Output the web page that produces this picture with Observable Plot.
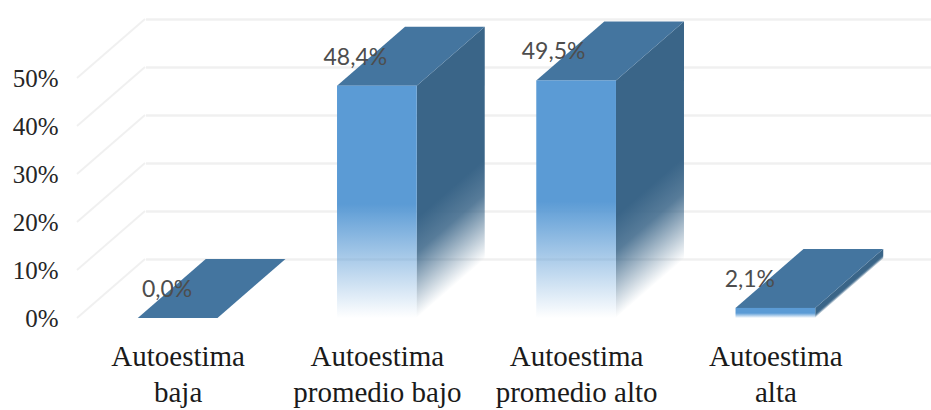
<!DOCTYPE html>
<html>
<head>
<meta charset="utf-8">
<script src="https://cdn.jsdelivr.net/npm/d3@7"></script>
<script src="https://cdn.jsdelivr.net/npm/@observablehq/plot@0.6"></script>
<style>
html,body{margin:0;padding:0;background:#fff;overflow:hidden}
svg{display:block}
</style>
</head>
<body>
<div id="chart"></div>
<script>
const categories = ["Autoestima\nbaja", "Autoestima\npromedio bajo", "Autoestima\npromedio alto", "Autoestima\nalta"];
const values = [0.0, 48.4, 49.5, 2.1];
const yTicks = [0, 10, 20, 30, 40, 50];

const rows = categories.map((cat, i) => ({cat, val: values[i]}));

// Chart-style constants for the 3D look
const DX = 68, DY = -59;
const FRONT = "#5b9bd5", TOP = "#44759f", SIDE = "#3a6588", GRID = "#f0f0f0";
const FADE = 0.43;
const labelShift = {[categories[0]]: -11, [categories[1]]: -22, [categories[2]]: -23, [categories[3]]: -26};

const poly = (pts) => pts.map(p => p.join(",")).join(" ");

function defsMark() {
  const defs = d3.create("svg:defs");
  const g = defs.append("linearGradient").attr("id", "frontFade").attr("x1", 0).attr("y1", 0).attr("x2", 0).attr("y2", 1);
  g.append("stop").attr("offset", "0.51").attr("stop-color", FRONT).attr("stop-opacity", 1);
  g.append("stop").attr("offset", "1").attr("stop-color", FRONT).attr("stop-opacity", 0);
  return defs.node();
}

function sideRender(index, scales) {
  const g = d3.create("svg:g");
  const bw = scales.x.bandwidth();
  const base = scales.y(0);
  for (const i of index) {
    const d = rows[i];
    const xr = scales.x(d.cat) + bw;
    const yt = scales.y(d.val);
    const span = (base - yt) * FADE;
    const norm = Math.hypot(DX, DY);
    const L = span * DX / norm;
    const x1 = xr, y1 = base - span;
    const id = "sideFade" + i;
    const lg = g.append("linearGradient").attr("id", id).attr("gradientUnits", "userSpaceOnUse")
      .attr("x1", x1).attr("y1", y1)
      .attr("x2", x1 + (-DY / norm) * L).attr("y2", y1 + (DX / norm) * L);
    lg.append("stop").attr("offset", 0).attr("stop-color", SIDE).attr("stop-opacity", 1);
    lg.append("stop").attr("offset", 0.35).attr("stop-color", SIDE).attr("stop-opacity", 0.85);
    lg.append("stop").attr("offset", 1).attr("stop-color", SIDE).attr("stop-opacity", 0);
    g.append("polygon")
      .attr("points", poly([[xr, yt], [xr + DX, yt + DY], [xr + DX, base + DY], [xr, base]]))
      .attr("fill", `url(#${id})`);
  }
  return g.node();
}

function topRender(index, scales) {
  const g = d3.create("svg:g");
  const bw = scales.x.bandwidth();
  for (const i of index) {
    const d = rows[i];
    const xl = scales.x(d.cat), yt = scales.y(d.val);
    g.append("polygon")
      .attr("points", poly([[xl, yt], [xl + bw, yt], [xl + bw + DX, yt + DY], [xl + DX, yt + DY]]))
      .attr("fill", TOP);
  }
  return g.node();
}

function floorRender(index, scales, vals, dims) {
  const g = d3.create("svg:g");
  const x0 = dims.marginLeft - 1;
  for (const i of index) {
    const y = scales.y(yTicks[i]);
    g.append("line").attr("x1", x0).attr("y1", y).attr("x2", x0 + DX).attr("y2", y + DY)
      .attr("stroke", GRID).attr("stroke-width", 1.8);
  }
  return g.node();
}

const chart = Plot.plot({
  width: 931,
  height: 410,
  marginLeft: 78,
  marginRight: 56,
  marginTop: 78,
  marginBottom: 92,
  style: {background: "#fff"},
  x: {domain: categories, paddingInner: 0.6, paddingOuter: 0.3, round: false, label: null},
  y: {domain: [0, 50], label: null},
  marks: [
    defsMark,
    Plot.ruleY(yTicks, {dx: DX, dy: DY, stroke: GRID, strokeWidth: 2.5}),
    Plot.ruleY(yTicks, {render: floorRender}),
    Plot.barY(rows, {x: "cat", y: "val", render: sideRender}),
    Plot.barY(rows, {x: "cat", y: "val", render: topRender}),
    Plot.barY(rows, {x: "cat", y: "val", fill: "url(#frontFade)"}),
    ...rows.map(r => Plot.text([r], {
      x: "cat", y: "val",
      text: d => d.val.toFixed(1).replace(".", ",") + "%",
      dx: labelShift[r.cat], dy: -29,
      fill: "#4d4d4d", fontFamily: "Lato", fontSize: 23
    })),
    Plot.axisY({
      ticks: yTicks, tickSize: 0, tickPadding: 20,
      tickFormat: d => d + "%",
      fontFamily: "Liberation Serif", fontSize: 25, fill: "#262626",
      label: null
    }),
    Plot.axisX({
      tickSize: 0, tickPadding: 22,
      fontFamily: "Liberation Serif", fontSize: 29, fill: "#1a1a1a",
      lineHeight: 1.25, lineAnchor: "top",
      label: null
    })
  ]
});
document.getElementById("chart").appendChild(chart);
</script>
</body>
</html>
